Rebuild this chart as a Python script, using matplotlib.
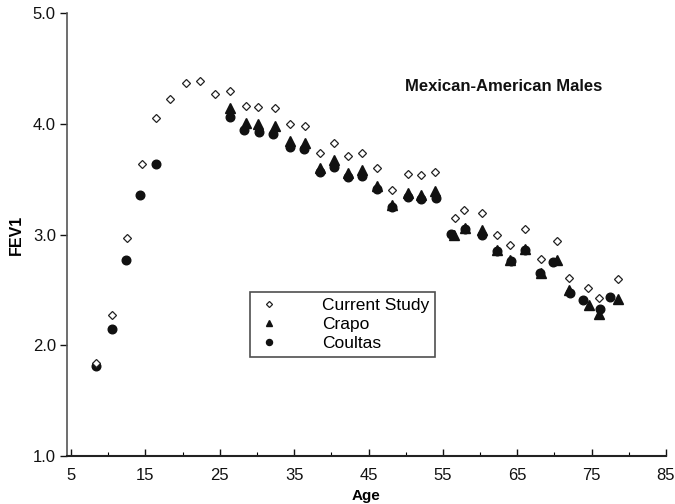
import numpy as np
import matplotlib
matplotlib.use("Agg")
import matplotlib.pyplot as plt

plt.rcParams['font.family'] = ['Liberation Sans', 'DejaVu Sans']

# ---- data ----
ages_current = [8.4, 10.5, 12.5, 14.5, 16.4, 18.3, 20.5, 22.4, 24.4, 26.4, 28.5, 30.2,
                32.4, 34.5, 36.4, 38.5, 40.3, 42.3, 44.1, 46.2, 48.1, 50.3, 52.1, 53.9,
                56.6, 57.9, 60.2, 62.3, 64.0, 66.0, 68.2, 70.4, 71.9, 74.5, 76.0, 78.6]
fev_current = [1.84, 2.27, 2.97, 3.64, 4.05, 4.23, 4.37, 4.39, 4.27, 4.30, 4.16, 4.15,
               4.14, 4.00, 3.98, 3.74, 3.83, 3.71, 3.74, 3.60, 3.40, 3.55, 3.54, 3.57,
               3.15, 3.22, 3.20, 3.00, 2.91, 3.05, 2.78, 2.94, 2.61, 2.52, 2.43, 2.60]

ages_crapo = [26.4, 28.5, 30.2, 32.4, 34.5, 36.4, 38.5, 40.3, 42.3, 44.1, 46.2, 48.1,
              50.3, 52.1, 53.9, 56.5, 58.0, 60.2, 62.3, 64.0, 66.0, 68.2, 70.4, 71.9,
              74.6, 76.0, 78.6]
fev_crapo = [4.14, 4.01, 4.00, 3.98, 3.85, 3.83, 3.60, 3.67, 3.56, 3.58, 3.44, 3.27,
             3.38, 3.36, 3.39, 3.00, 3.06, 3.04, 2.86, 2.77, 2.87, 2.65, 2.77, 2.50,
             2.36, 2.28, 2.42]

ages_coultas = [8.4, 10.5, 12.4, 14.3, 16.4, 26.4, 28.3, 30.3, 32.2, 34.4, 36.3, 38.5,
                40.4, 42.3, 44.1, 46.2, 48.2, 50.3, 52.1, 54.1, 56.1, 58.0, 60.2, 62.3,
                64.1, 66.1, 68.0, 69.8, 72.1, 73.8, 76.1, 77.5]
fev_coultas = [1.81, 2.15, 2.77, 3.36, 3.64, 4.06, 3.95, 3.93, 3.91, 3.79, 3.77, 3.57,
               3.61, 3.52, 3.53, 3.41, 3.25, 3.34, 3.32, 3.33, 3.01, 3.05, 3.00, 2.85,
               2.76, 2.86, 2.65, 2.75, 2.47, 2.41, 2.33, 2.44]

xticks = [5, 15, 25, 35, 45, 55, 65, 75, 85]
yticks = [1.0, 2.0, 3.0, 4.0, 5.0]

fig = plt.figure(figsize=(6.75, 5.04), dpi=100)
ax = fig.add_axes([67/675, 1 - 456/504, (666 - 67)/675, (456 - 13.3)/504])

ax.plot(ages_crapo, fev_crapo, linestyle='none', marker='^', markersize=6.5,
        color='#111111', label='Crapo', zorder=3)
ax.plot(ages_coultas, fev_coultas, linestyle='none', marker='o', markersize=6.2,
        color='#111111', label='Coultas', zorder=4)
ax.plot(ages_current, fev_current, linestyle='none', marker='D', markersize=4.4,
        markerfacecolor='white', markeredgecolor='#222222', markeredgewidth=0.9,
        label='Current Study', zorder=5)

ax.set_xlim(4.46, 85)
ax.set_ylim(1.0, 5.0)
ax.set_xticks(xticks)
ax.set_xticks(np.arange(10, 85, 10), minor=True)
ax.set_yticks(yticks)
ax.set_yticklabels(['%.1f' % v for v in yticks])
ax.tick_params(axis='x', which='major', direction='in', length=5, width=1,
               labelsize=12, pad=9, colors='#111111')
ax.tick_params(axis='x', which='minor', direction='in', length=3, width=0.8)
ax.tick_params(axis='y', which='major', direction='out', length=5, width=1,
               labelsize=12, pad=3, colors='#111111')

for side in ['top', 'right']:
    ax.spines[side].set_visible(False)
ax.spines['left'].set_color('#555555')
ax.spines['left'].set_linewidth(1.2)
ax.spines['bottom'].set_linewidth(1.5)
ax.spines['bottom'].set_color('#222222')

ax.set_xlabel('Age', fontsize=11, fontweight='bold', labelpad=4)
ax.set_ylabel('FEV1', fontsize=11.5, fontweight='bold')
ax.yaxis.set_label_coords(-0.072, 0.50)

ax.text(0.565, 0.835, 'Mexican-American Males', transform=ax.transAxes,
        fontsize=12, fontweight='bold', color='#111111', ha='left', va='center')

# legend order: Current Study, Crapo, Coultas
handles, labels = ax.get_legend_handles_labels()
order = [2, 0, 1]
leg = ax.legend([handles[i] for i in order], [labels[i] for i in order],
                loc='upper left', bbox_to_anchor=(250/675, 1 - 291.7/504),
                bbox_transform=fig.transFigure, borderaxespad=0,
                fancybox=False, frameon=True, edgecolor='#222222', fontsize=12.5,
                markerscale=0.7, handlelength=1.5, handletextpad=2.3,
                borderpad=0.35, labelspacing=0.22)
leg.get_frame().set_linewidth(1.2)

fig.savefig('out.png', dpi=100)
